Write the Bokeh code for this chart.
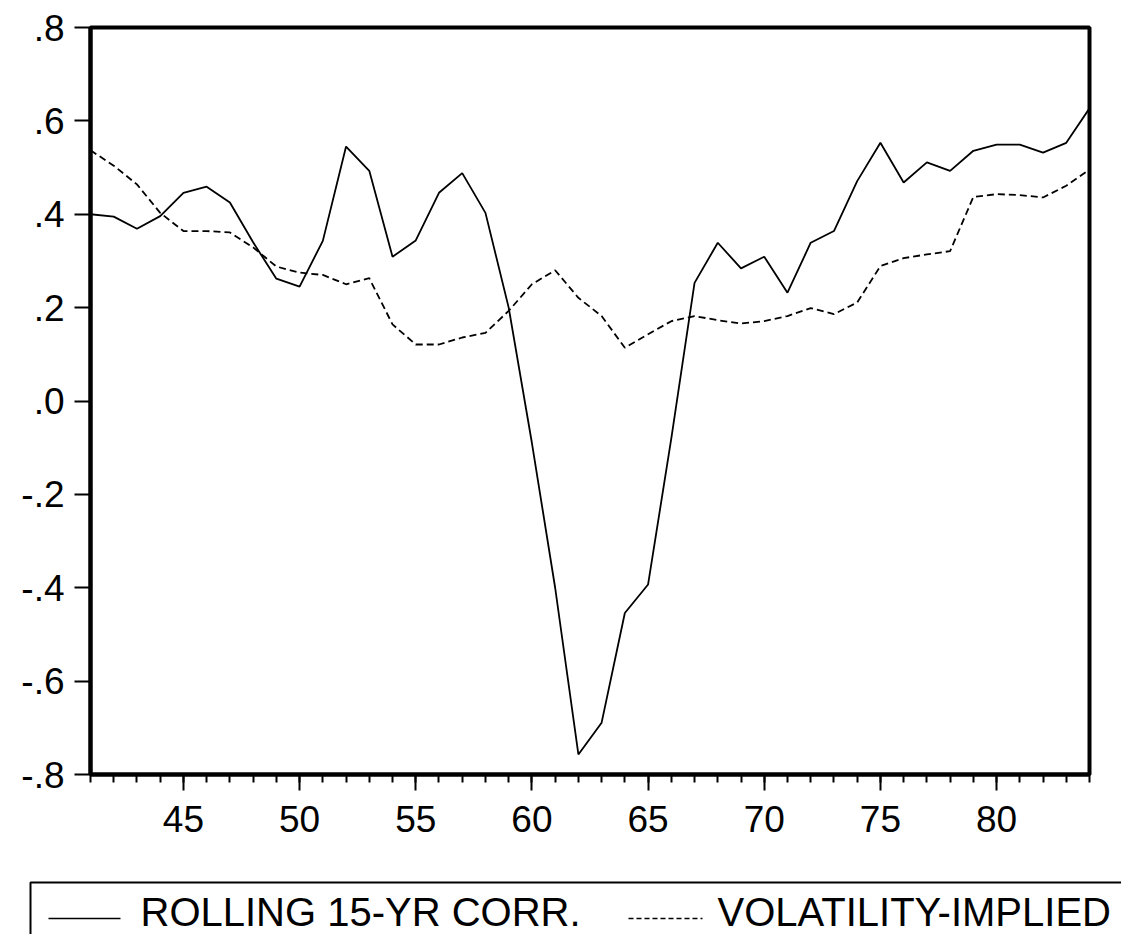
from bokeh.plotting import figure
from bokeh.layouts import column
from bokeh.models import Range1d, FixedTicker
from bokeh.core.properties import value
from bokeh.embed import file_html
from bokeh.resources import INLINE

# ---- data ----
years = list(range(41, 85))
rolling_corr = [0.400, 0.395, 0.369, 0.396, 0.446, 0.459, 0.425, 0.340, 0.262, 0.245,
                0.343, 0.545, 0.493, 0.309, 0.344, 0.446, 0.488, 0.403, 0.200, -0.090,
                -0.400, -0.757, -0.689, -0.454, -0.393, -0.080, 0.253, 0.339, 0.284, 0.309,
                0.232, 0.339, 0.364, 0.471, 0.553, 0.468, 0.511, 0.493, 0.536, 0.549,
                0.549, 0.532, 0.553, 0.627]
vol_implied = [0.537, 0.504, 0.464, 0.403, 0.364, 0.364, 0.361, 0.329, 0.288, 0.275,
               0.270, 0.250, 0.263, 0.164, 0.121, 0.121, 0.136, 0.146, 0.193, 0.250,
               0.280, 0.221, 0.182, 0.114, 0.143, 0.171, 0.182, 0.173, 0.166, 0.171,
               0.182, 0.199, 0.186, 0.211, 0.289, 0.306, 0.314, 0.321, 0.437, 0.443,
               0.441, 0.436, 0.461, 0.496]
y_ticks = [-0.8, -0.6, -0.4, -0.2, 0.0, 0.2, 0.4, 0.6, 0.8]
y_tick_labels = ["-.8", "-.6", "-.4", "-.2", ".0", ".2", ".4", ".6", ".8"]
x_major = [45, 50, 55, 60, 65, 70, 75, 80]
x_minor = list(range(41, 85))
series_names = ["ROLLING 15-YR CORR.", "VOLATILITY-IMPLIED"]

FONT = "Liberation Sans"
W = 1121
H_MAIN = 866
H_LEG = 68

p = figure(width=W, height=H_MAIN, output_backend="svg", toolbar_location=None,
           x_range=Range1d(41, 84), y_range=Range1d(-0.8, 0.8),
           min_border_left=90, min_border_right=32, min_border_top=27, min_border_bottom=92)
p.frame_align = False
p.background_fill_color = "white"
p.border_fill_color = "white"
p.outline_line_color = "black"
p.outline_line_width = 4
p.grid.visible = False

p.line(years, rolling_corr, line_color="black", line_width=1.8)
p.line(years, vol_implied, line_color="black", line_width=1.8, line_dash="7 4")

# axes
p.yaxis.ticker = FixedTicker(ticks=y_ticks)
p.yaxis.major_label_overrides = {t: l for t, l in zip(y_ticks, y_tick_labels)}
p.xaxis.ticker = FixedTicker(ticks=x_major, minor_ticks=x_minor)
for ax in (p.xaxis[0], p.yaxis[0]):
    ax.axis_line_color = "black"
    ax.axis_line_width = 4
    ax.major_tick_line_color = "black"
    ax.major_tick_line_width = 2
    ax.major_tick_in = 0
    ax.major_tick_out = 16
    ax.minor_tick_line_color = "black"
    ax.minor_tick_line_width = 2
    ax.minor_tick_in = 0
    ax.minor_tick_out = 8
    ax.major_label_text_font = FONT
    ax.major_label_text_font_size = "37px"
    ax.major_label_text_color = "black"
p.yaxis.major_label_standoff = 10
p.xaxis.major_label_standoff = 15

# ---- legend strip (pixel coordinates, y downward) ----
lg = figure(width=W, height=H_LEG, output_backend="svg", toolbar_location=None,
            x_range=Range1d(0, W), y_range=Range1d(H_LEG, 0),
            min_border_left=0, min_border_right=0, min_border_top=0, min_border_bottom=0)
lg.frame_align = False
lg.axis.visible = False
lg.grid.visible = False
lg.outline_line_color = None
lg.quad(left=[30], right=[W + 100], top=[16], bottom=[300], fill_color=None,
        line_color="black", line_width=2)
lg.line([48, 120], [52, 52], line_color="black", line_width=1.6)
lg.line([628, 702], [52, 52], line_color="black", line_width=1.6, line_dash="5 3")
lg.text(x=[140, 717], y=[45, 45], text=series_names, text_font=value(FONT),
        text_font_size="40px", text_baseline="middle", text_align="left",
        text_color="black")

layout = column(p, lg, spacing=0)
open("out.html", "w").write(file_html(layout, INLINE))
